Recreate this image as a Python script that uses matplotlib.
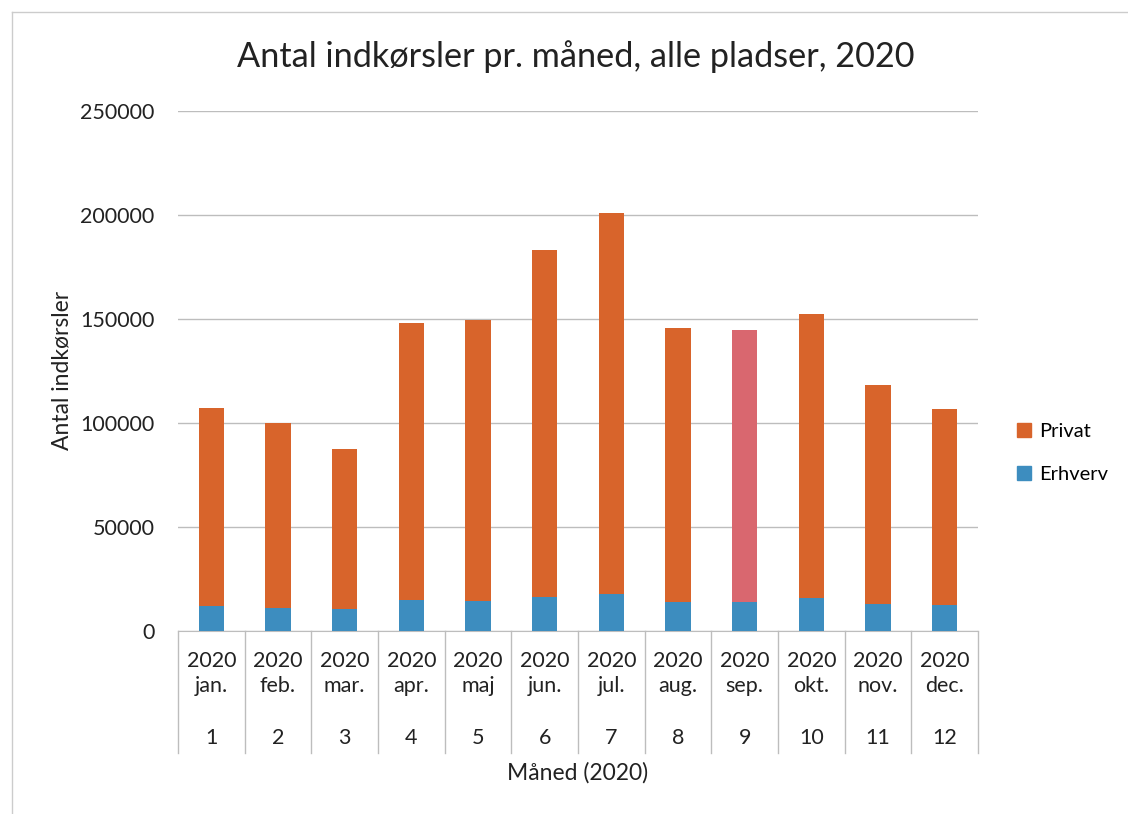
import numpy as np
import matplotlib
matplotlib.use("Agg")
import matplotlib.pyplot as plt
from matplotlib.patches import Patch
from matplotlib.lines import Line2D

plt.rcParams['font.family'] = ['Lato', 'DejaVu Sans']

# Data
maaneder = ['jan.', 'feb.', 'mar.', 'apr.', 'maj', 'jun.',
            'jul.', 'aug.', 'sep.', 'okt.', 'nov.', 'dec.']
aar = ['2020'] * 12
nr = [str(i) for i in range(1, 13)]
total = np.array([107000, 100000, 87300, 148300, 149600, 183000,
                  201000, 145600, 144600, 152300, 118300, 106800])
erhverv = np.array([12000, 11200, 10500, 14900, 14300, 16200,
                    17600, 14100, 14100, 15800, 13000, 12500])
privat = total - erhverv

c_privat = '#d8642b'
c_erhverv = '#3d8dbf'
c_fremh = '#d9676f'   # september is drawn in a lighter red

fig = plt.figure(figsize=(11.28, 8.14), dpi=100)
ax = fig.add_axes([178 / 1128, 1 - 631 / 814, 800 / 1128, 520 / 814])

x = np.arange(len(maaneder))
farver = [c_fremh if m == 'sep.' else c_privat for m in maaneder]
ax.bar(x, erhverv, width=0.38, color=c_erhverv, zorder=3)
ax.bar(x, privat, width=0.38, bottom=erhverv, color=farver, zorder=3)

ax.set_xlim(-0.5, 11.5)
ax.set_ylim(0, 250000)
ax.set_yticks(np.arange(0, 250001, 50000))
ax.set_yticklabels([str(v) for v in range(0, 250001, 50000)], fontsize=15.5, color='#222222')
ax.tick_params(axis='y', length=0, pad=17)
ax.set_xticks([])
ax.yaxis.grid(True, color='#bdbdbd', linewidth=1)
ax.set_axisbelow(True)
for s in ['top', 'right', 'left']:
    ax.spines[s].set_visible(False)
ax.spines['bottom'].set_color('#bdbdbd')

# multi-level category axis
trans = ax.get_xaxis_transform()
for i in range(len(maaneder)):
    ax.text(i, -0.058, aar[i], transform=trans, ha='center', va='center', fontsize=15.5, color='#222222')
    ax.text(i, -0.106, maaneder[i], transform=trans, ha='center', va='center', fontsize=15.5, color='#222222')
    ax.text(i, -0.206, nr[i], transform=trans, ha='center', va='center', fontsize=15.5, color='#222222')
for k in range(len(maaneder) + 1):
    ax.add_line(Line2D([k - 0.5, k - 0.5], [0, -0.234], transform=trans,
                       color='#bdbdbd', linewidth=1, clip_on=False))

ax.text(0.5, -0.273, 'Måned (2020)', transform=ax.transAxes, ha='center', va='center',
        fontsize=16.5, color='#222222')
fig.text(62 / 1128, 1 - 370 / 814, 'Antal indkørsler', rotation=90, ha='center', va='center',
         fontsize=16.5, color='#222222')
fig.text(576 / 1128, 1 - 57 / 814, 'Antal indkørsler pr. måned, alle pladser, 2020',
         ha='center', va='center', fontsize=24.7, color='#222222')

handles = [Patch(color=c_privat, label='Privat'), Patch(color=c_erhverv, label='Erhverv')]
fig.legend(handles=handles, loc='center left', bbox_to_anchor=(999 / 1128, 1 - 453 / 814),
           frameon=False, fontsize=14.5, handlelength=0.7, handleheight=0.7,
           handletextpad=0.4, labelspacing=1.3)

# chart border
fig.add_artist(Line2D([12 / 1128, 1], [1 - 12 / 814, 1 - 12 / 814], transform=fig.transFigure,
                      color='#cccccc', linewidth=1))
fig.add_artist(Line2D([12 / 1128, 12 / 1128], [0, 1 - 12 / 814], transform=fig.transFigure,
                      color='#cccccc', linewidth=1))

fig.savefig('out.png', dpi=100)
